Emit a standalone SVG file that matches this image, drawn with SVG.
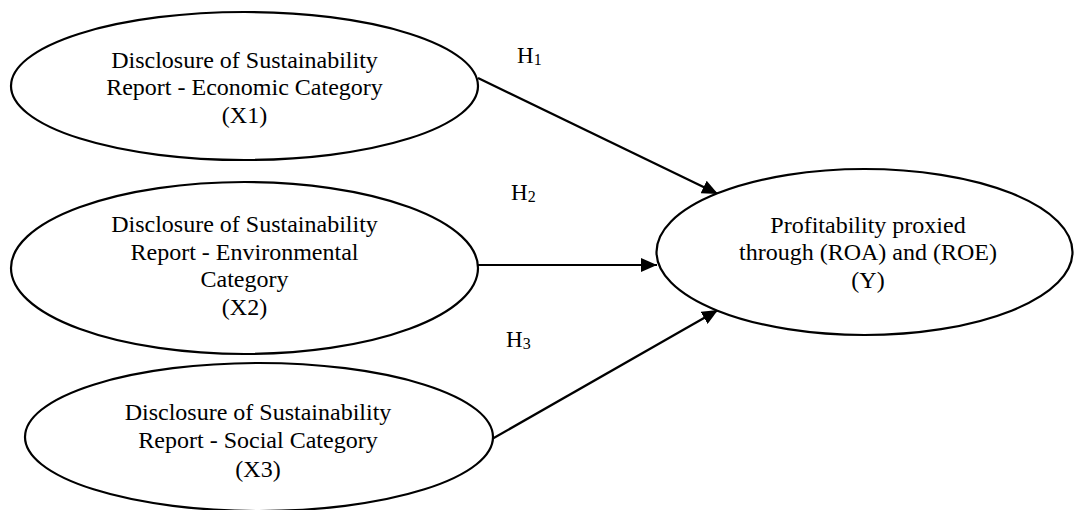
<svg xmlns="http://www.w3.org/2000/svg" width="1074" height="510" viewBox="0 0 1074 510">
<style>
.n{fill:#fff;stroke:#000;stroke-width:2.2}
.t{font-family:"Liberation Serif","Times New Roman",serif;font-size:24px;fill:#000;text-anchor:middle}
.h{font-family:"Liberation Serif","Times New Roman",serif;font-size:23px;fill:#000}
.s{font-size:16px}
.c{stroke:#000;stroke-width:2.2;fill:none;marker-end:url(#ah)}
</style>
<defs>
<marker id="ah" markerWidth="16" markerHeight="14" refX="16" refY="7" orient="auto" markerUnits="userSpaceOnUse">
<path d="M0,0 L16,7 L0,14 Z" fill="#000"/>
</marker>
</defs>
<rect width="1074" height="510" fill="#fff"/>
<g id="connectors">
<line class="c" x1="478" y1="78" x2="718" y2="194"/>
<line class="c" x1="478" y1="265" x2="657" y2="265"/>
<line class="c" x1="492" y1="439" x2="718" y2="310"/>
</g>
<g id="labels">
<text class="h" x="517" y="63">H<tspan class="s" dy="2">1</tspan></text>
<text class="h" x="511" y="200">H<tspan class="s" dy="2">2</tspan></text>
<text class="h" x="506" y="347">H<tspan class="s" dy="2">3</tspan></text>
</g>
<g id="x1">
<ellipse class="n" cx="244.5" cy="86" rx="233.5" ry="74"/>
<text class="t" x="244.5" y="68">Disclosure of Sustainability</text>
<text class="t" x="244.5" y="95">Report - Economic Category</text>
<text class="t" x="244.5" y="123">(X1)</text>
</g>
<g id="x2">
<ellipse class="n" cx="244.5" cy="268" rx="233.5" ry="86"/>
<text class="t" x="244.5" y="232">Disclosure of Sustainability</text>
<text class="t" x="244.5" y="260">Report - Environmental</text>
<text class="t" x="244.5" y="287">Category</text>
<text class="t" x="244.5" y="315">(X2)</text>
</g>
<g id="x3">
<ellipse class="n" cx="259" cy="437" rx="234" ry="74"/>
<text class="t" x="258" y="420">Disclosure of Sustainability</text>
<text class="t" x="258" y="448">Report - Social Category</text>
<text class="t" x="258" y="477">(X3)</text>
</g>
<g id="y">
<ellipse class="n" cx="864.5" cy="252" rx="208" ry="83"/>
<text class="t" x="868" y="233">Profitability proxied</text>
<text class="t" x="868" y="260">through (ROA) and (ROE)</text>
<text class="t" x="868" y="288">(Y)</text>
</g>
</svg>
